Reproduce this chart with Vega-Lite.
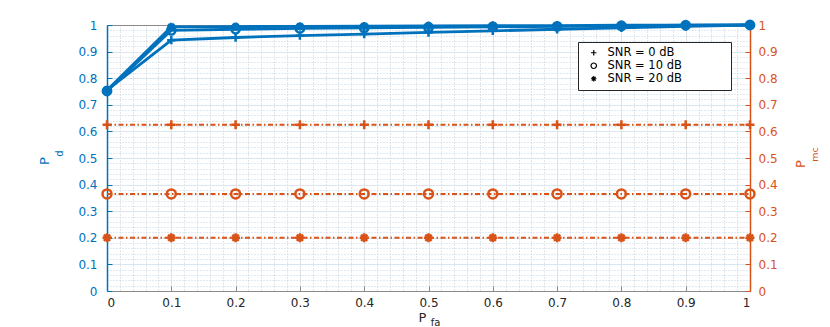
{
  "$schema": "https://vega.github.io/schema/vega-lite/v6.json",
  "width": 643,
  "height": 266,
  "autosize": {"type": "none"},
  "padding": {"left": 107, "top": 25, "right": 80, "bottom": 36},
  "background": "white",
  "config": {
    "view": {"stroke": null},
    "font": "DejaVu Sans",
    "axis": {"labelFont": "DejaVu Sans", "titleFont": "DejaVu Sans", "titleFontWeight": "normal", "labelOverlap": false, "zindex": 1},
    "legend": {"labelFont": "DejaVu Sans"}
  },
  "datasets": {
    "pd": [
      {"pfa": 0, "snr": "0", "pd": 0.755}, {"pfa": 0.1, "snr": "0", "pd": 0.943}, {"pfa": 0.2, "snr": "0", "pd": 0.953}, {"pfa": 0.3, "snr": "0", "pd": 0.96}, {"pfa": 0.4, "snr": "0", "pd": 0.966}, {"pfa": 0.5, "snr": "0", "pd": 0.972}, {"pfa": 0.6, "snr": "0", "pd": 0.978}, {"pfa": 0.7, "snr": "0", "pd": 0.984}, {"pfa": 0.8, "snr": "0", "pd": 0.989}, {"pfa": 0.9, "snr": "0", "pd": 0.995}, {"pfa": 1, "snr": "0", "pd": 1.0},
      {"pfa": 0, "snr": "10", "pd": 0.752}, {"pfa": 0.1, "snr": "10", "pd": 0.98}, {"pfa": 0.2, "snr": "10", "pd": 0.984}, {"pfa": 0.3, "snr": "10", "pd": 0.987}, {"pfa": 0.4, "snr": "10", "pd": 0.989}, {"pfa": 0.5, "snr": "10", "pd": 0.991}, {"pfa": 0.6, "snr": "10", "pd": 0.993}, {"pfa": 0.7, "snr": "10", "pd": 0.995}, {"pfa": 0.8, "snr": "10", "pd": 0.997}, {"pfa": 0.9, "snr": "10", "pd": 0.999}, {"pfa": 1, "snr": "10", "pd": 1.0},
      {"pfa": 0, "snr": "20", "pd": 0.755}, {"pfa": 0.1, "snr": "20", "pd": 0.993}, {"pfa": 0.2, "snr": "20", "pd": 0.994}, {"pfa": 0.3, "snr": "20", "pd": 0.995}, {"pfa": 0.4, "snr": "20", "pd": 0.996}, {"pfa": 0.5, "snr": "20", "pd": 0.997}, {"pfa": 0.6, "snr": "20", "pd": 0.998}, {"pfa": 0.7, "snr": "20", "pd": 0.998}, {"pfa": 0.8, "snr": "20", "pd": 0.999}, {"pfa": 0.9, "snr": "20", "pd": 0.999}, {"pfa": 1, "snr": "20", "pd": 1.0}
    ],
    "pmc": [
      {"pfa": 0, "snr": "0", "pmc": 0.625}, {"pfa": 0.1, "snr": "0", "pmc": 0.625}, {"pfa": 0.2, "snr": "0", "pmc": 0.625}, {"pfa": 0.3, "snr": "0", "pmc": 0.625}, {"pfa": 0.4, "snr": "0", "pmc": 0.625}, {"pfa": 0.5, "snr": "0", "pmc": 0.625}, {"pfa": 0.6, "snr": "0", "pmc": 0.625}, {"pfa": 0.7, "snr": "0", "pmc": 0.625}, {"pfa": 0.8, "snr": "0", "pmc": 0.625}, {"pfa": 0.9, "snr": "0", "pmc": 0.625}, {"pfa": 1, "snr": "0", "pmc": 0.625},
      {"pfa": 0, "snr": "10", "pmc": 0.365}, {"pfa": 0.1, "snr": "10", "pmc": 0.365}, {"pfa": 0.2, "snr": "10", "pmc": 0.365}, {"pfa": 0.3, "snr": "10", "pmc": 0.365}, {"pfa": 0.4, "snr": "10", "pmc": 0.365}, {"pfa": 0.5, "snr": "10", "pmc": 0.365}, {"pfa": 0.6, "snr": "10", "pmc": 0.365}, {"pfa": 0.7, "snr": "10", "pmc": 0.365}, {"pfa": 0.8, "snr": "10", "pmc": 0.365}, {"pfa": 0.9, "snr": "10", "pmc": 0.365}, {"pfa": 1, "snr": "10", "pmc": 0.365},
      {"pfa": 0, "snr": "20", "pmc": 0.2}, {"pfa": 0.1, "snr": "20", "pmc": 0.2}, {"pfa": 0.2, "snr": "20", "pmc": 0.2}, {"pfa": 0.3, "snr": "20", "pmc": 0.2}, {"pfa": 0.4, "snr": "20", "pmc": 0.2}, {"pfa": 0.5, "snr": "20", "pmc": 0.2}, {"pfa": 0.6, "snr": "20", "pmc": 0.2}, {"pfa": 0.7, "snr": "20", "pmc": 0.2}, {"pfa": 0.8, "snr": "20", "pmc": 0.2}, {"pfa": 0.9, "snr": "20", "pmc": 0.2}, {"pfa": 1, "snr": "20", "pmc": 0.2}
    ]
  },
  "resolve": {"scale": {"y": "independent"}, "axis": {"x": "independent", "y": "independent"}},
  "layer": [
    {
      "data": {"name": "pd"},
      "resolve": {"axis": {"x": "independent", "y": "independent"}},
      "layer": [
        {
          "mark": {"type": "line", "opacity": 0},
          "encoding": {
            "x": {"field": "pfa", "type": "quantitative", "scale": {"domain": [0, 1], "nice": false, "zero": false},
              "axis": {"orient": "bottom", "values": [0.02,0.04,0.06,0.08,0.12,0.14,0.16,0.18,0.22,0.24,0.26,0.28,0.32,0.34,0.36,0.38,0.42,0.44,0.46,0.48,0.52,0.54,0.56,0.58,0.62,0.64,0.66,0.68,0.72,0.74,0.76,0.78,0.82,0.84,0.86,0.88,0.92,0.94,0.96,0.98],
                "grid": true, "gridDash": [1, 2], "gridColor": "#c8c8c8", "gridWidth": 1, "labels": false, "ticks": false, "domain": false,
                "title": "fa", "titleFontSize": 10, "titleColor": "#262626", "titleX": 328, "titleY": 31.5, "titleAlign": "center", "titleBaseline": "middle", "titleAngle": 0}},
            "y": {"field": "pd", "type": "quantitative", "scale": {"domain": [0, 1], "nice": false, "zero": false},
              "axis": {"orient": "left", "values": [0.02,0.04,0.06,0.08,0.12,0.14,0.16,0.18,0.22,0.24,0.26,0.28,0.32,0.34,0.36,0.38,0.42,0.44,0.46,0.48,0.52,0.54,0.56,0.58,0.62,0.64,0.66,0.68,0.72,0.74,0.76,0.78,0.82,0.84,0.86,0.88,0.92,0.94,0.96,0.98],
                "grid": true, "gridDash": [1, 2], "gridColor": "#bcd6ea", "gridWidth": 1, "labels": false, "ticks": false, "domain": false,
                "title": "d", "titleFontSize": 10, "titleColor": "#0072BD", "titleX": -48, "titleY": 128, "titleAlign": "center", "titleBaseline": "middle", "titleAngle": -90}},
            "detail": {"field": "snr"}
          }
        },
        {
          "mark": {"type": "line", "color": "#0072BD", "strokeWidth": 2.8},
          "encoding": {
            "x": {"field": "pfa", "type": "quantitative",
              "axis": {"orient": "bottom", "values": [0,0.1,0.2,0.3,0.4,0.5,0.6,0.7,0.8,0.9,1], "format": ".1~f",
                "grid": true, "gridColor": "#e2e2e2", "gridWidth": 1, "domainColor": "#8a8a8a", "domainWidth": 1, "tickColor": "#8a8a8a", "tickSize": -5,
                "labelColor": "#262626", "labelFontSize": 12, "labelPadding": 11,
                "title": "P", "titleFontSize": 13, "titleColor": "#262626", "titleX": 315, "titleY": 26, "titleAlign": "center", "titleBaseline": "middle", "titleAngle": 0}},
            "y": {"field": "pd", "type": "quantitative",
              "axis": {"orient": "left", "values": [0,0.1,0.2,0.3,0.4,0.5,0.6,0.7,0.8,0.9,1], "format": ".1~f",
                "grid": true, "gridColor": "#d8e6f2", "gridWidth": 1, "domainColor": "#0072BD", "domainWidth": 1.5, "tickColor": "#0072BD", "tickSize": -5,
                "labelColor": "#0072BD", "labelFontSize": 12, "labelPadding": 15,
                "title": "P", "titleFontSize": 13, "titleColor": "#0072BD", "titleX": -63, "titleY": 135.5, "titleAlign": "center", "titleBaseline": "middle", "titleAngle": -90}},
            "detail": {"field": "snr"}
          }
        },
        {
          "mark": {"type": "point", "filled": false, "color": "#0072BD", "strokeWidth": 2.5, "size": 70, "opacity": 1},
          "encoding": {
            "x": {"field": "pfa", "type": "quantitative",
              "axis": {"orient": "top", "values": [0,0.1,0.2,0.3,0.4,0.5,0.6,0.7,0.8,0.9,1], "grid": false, "labels": false,
                "domainColor": "#8a8a8a", "domainWidth": 1, "tickColor": "#8a8a8a", "tickSize": -5, "title": null}},
            "y": {"field": "pd", "type": "quantitative", "axis": null},
            "shape": {"field": "snr", "type": "nominal",
              "scale": {"domain": ["0", "10", "20"], "range": ["M-1,0H1M0,-1V1", "circle", "M-1,0H1M0,-1V1M-0.7,-0.7L0.7,0.7M-0.7,0.7L0.7,-0.7"]},
              "legend": {"orient": "none", "legendX": 471, "legendY": 17, "title": null, "fillColor": "white", "strokeColor": "#262626",
                "padding": 5, "rowPadding": 0, "labelFontSize": 11.5, "labelColor": "#000000", "labelOffset": 8, "symbolOffset": 5,
                "symbolStrokeColor": "#000000", "symbolFillColor": "transparent", "symbolStrokeWidth": 1.2, "symbolSize": 30, "labelLimit": 300,
                "labelExpr": "'SNR = ' + datum.label + ' dB\u2007\u2007\u2007\u2007\u2007\u2007\u200b'"}}
          }
        }
      ]
    },
    {
      "data": {"name": "pmc"},
      "resolve": {"axis": {"x": "independent", "y": "independent"}},
      "layer": [
        {
          "mark": {"type": "line", "color": "#D95319", "strokeWidth": 2, "strokeDash": [5, 2.5, 1.5, 2.5]},
          "encoding": {
            "x": {"field": "pfa", "type": "quantitative", "axis": null},
            "y": {"field": "pmc", "type": "quantitative", "scale": {"domain": [0, 1], "nice": false, "zero": false},
              "axis": {"orient": "right", "values": [0,0.1,0.2,0.3,0.4,0.5,0.6,0.7,0.8,0.9,1], "format": ".1~f",
                "grid": false, "domainColor": "#D95319", "domainWidth": 1.5, "tickColor": "#D95319", "tickSize": -5,
                "labelColor": "#D95319", "labelFontSize": 12, "labelPadding": 13,
                "title": "P", "titleFontSize": 13, "titleColor": "#D95319", "titleX": 50, "titleY": 138.5, "titleAlign": "center", "titleBaseline": "middle", "titleAngle": -90}},
            "detail": {"field": "snr"}
          }
        },
        {
          "mark": {"type": "point", "filled": false, "color": "#D95319", "strokeWidth": 2.5, "size": 80, "opacity": 1},
          "encoding": {
            "x": {"field": "pfa", "type": "quantitative", "axis": null},
            "y": {"field": "pmc", "type": "quantitative",
              "axis": {"orient": "right", "labels": false, "ticks": false, "domain": false, "grid": false,
                "title": "mc", "titleFontSize": 9.5, "titleColor": "#D95319", "titleX": 64, "titleY": 129, "titleAlign": "center", "titleBaseline": "middle", "titleAngle": -90}},
            "shape": {"field": "snr", "type": "nominal",
              "scale": {"domain": ["0", "10", "20"], "range": ["M-1,0H1M0,-1V1", "circle", "M-1,0H1M0,-1V1M-0.7,-0.7L0.7,0.7M-0.7,0.7L0.7,-0.7"]},
              "legend": {"orient": "none", "legendX": 471, "legendY": 17, "title": null, "fillColor": "white", "strokeColor": "#262626",
                "padding": 5, "rowPadding": 0, "labelFontSize": 11.5, "labelColor": "#000000", "labelOffset": 8, "symbolOffset": 5,
                "symbolStrokeColor": "#000000", "symbolFillColor": "transparent", "symbolStrokeWidth": 1.2, "symbolSize": 30, "labelLimit": 300,
                "labelExpr": "'SNR = ' + datum.label + ' dB\u2007\u2007\u2007\u2007\u2007\u2007\u200b'"}}
          }
        }
      ]
    }
  ]
}
